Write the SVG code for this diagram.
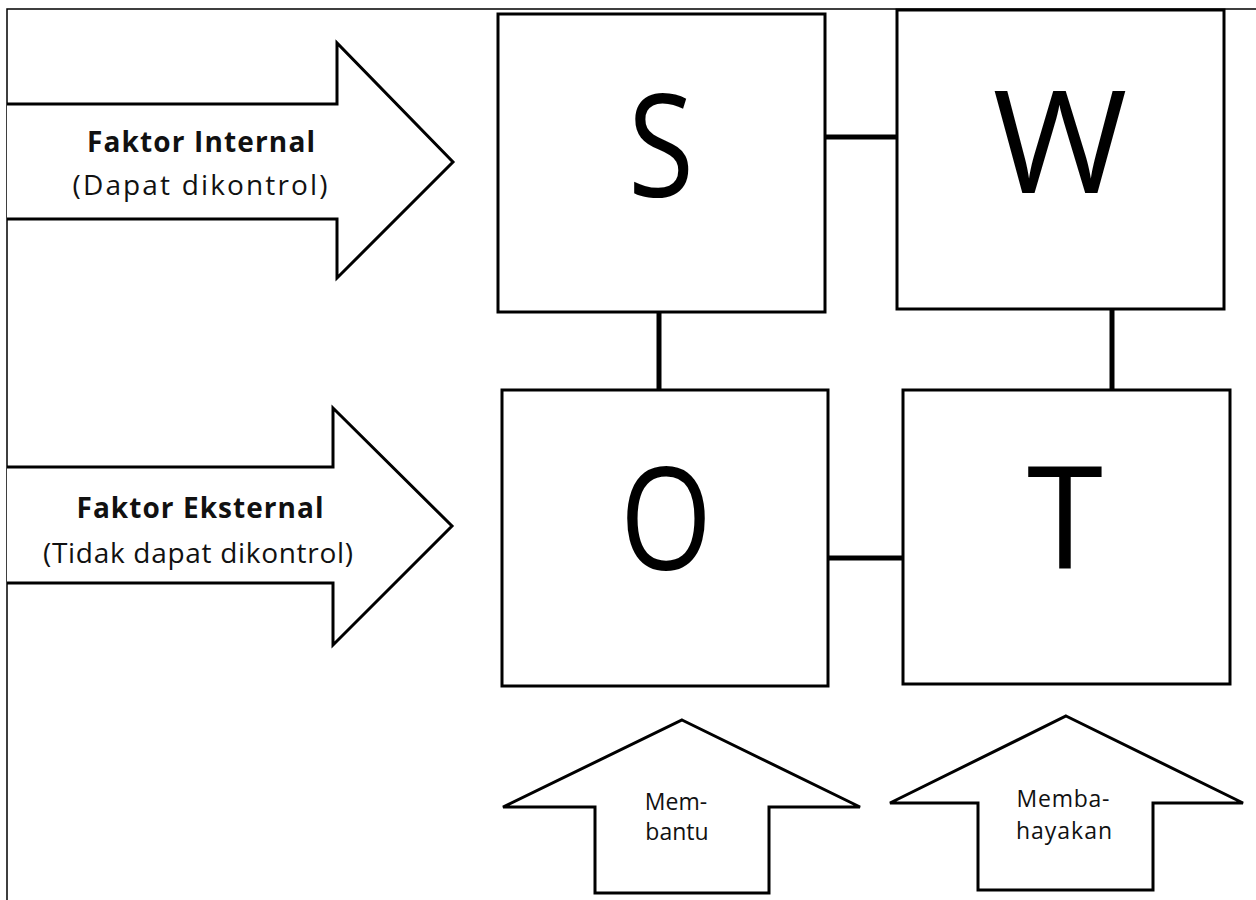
<svg xmlns="http://www.w3.org/2000/svg" width="1256" height="900" viewBox="0 0 1256 900">
<style>
.box{fill:#fff;stroke:#000;stroke-width:3}
.arrow{fill:#fff;stroke:#000;stroke-width:3;stroke-linejoin:miter}
.conn{stroke:#000;stroke-width:5;fill:none}
.frame{stroke:#000;stroke-width:1.5;fill:none}
.big{font-family:"Open Sans","Liberation Sans",sans-serif;font-size:142px;fill:#000;text-anchor:middle}
.lbl{font-family:"Open Sans","Liberation Sans",sans-serif;font-size:28px;fill:#111;text-anchor:middle}
.lblb{font-family:"Open Sans","Liberation Sans",sans-serif;font-size:28px;font-weight:bold;fill:#111;text-anchor:middle}
.sm{font-family:"Open Sans","Liberation Sans",sans-serif;font-size:23px;fill:#111;text-anchor:middle}
</style>
<rect width="1256" height="900" fill="#fff"/>
<path class="frame" d="M7,900 V9 H1256"/>
<g id="connectors">
<line class="conn" x1="825" y1="137" x2="897" y2="137"/>
<line class="conn" x1="659" y1="312" x2="659" y2="390"/>
<line class="conn" x1="1112" y1="309" x2="1112" y2="390"/>
<line class="conn" x1="828" y1="558" x2="903" y2="558"/>
</g>
<g id="node-S">
<rect class="box" x="498" y="14" width="327" height="298"/>
<text class="big" x="661" y="197" textLength="66" lengthAdjust="spacingAndGlyphs">S</text>
</g>
<g id="node-W">
<rect class="box" x="897" y="10" width="327" height="299"/>
<text class="big" x="1060" y="193" textLength="135" lengthAdjust="spacingAndGlyphs">W</text>
</g>
<g id="node-O">
<rect class="box" x="502" y="390" width="326" height="296"/>
<text class="big" x="666" y="570" textLength="92" lengthAdjust="spacingAndGlyphs">O</text>
</g>
<g id="node-T">
<rect class="box" x="903" y="390" width="327" height="294"/>
<text class="big" x="1065" y="569" textLength="76" lengthAdjust="spacingAndGlyphs">T</text>
</g>
<g id="arrow-internal">
<path class="arrow" d="M7,104 H337 V43 L453,162 L337,278 V219 H7"/>
<text class="lblb" x="201" y="152" textLength="228" lengthAdjust="spacing">Faktor Internal</text>
<text class="lbl" x="200" y="195" textLength="255" lengthAdjust="spacing">(Dapat dikontrol)</text>
</g>
<g id="arrow-eksternal">
<path class="arrow" d="M7,467 H333 V408 L452,526 L333,645 V583 H7"/>
<text class="lblb" x="200" y="518" textLength="247" lengthAdjust="spacing">Faktor Eksternal</text>
<text class="lbl" x="198" y="563" textLength="310" lengthAdjust="spacing">(Tidak dapat dikontrol)</text>
</g>
<g id="arrow-membantu">
<path class="arrow" d="M682,720 L860,807 H769 V893 H595 V807 H503 Z"/>
<text class="sm" x="676" y="810">Mem-</text>
<text class="sm" x="677" y="840">bantu</text>
</g>
<g id="arrow-membahayakan">
<path class="arrow" d="M1066,716 L1243,803 H1153 V890 H978 V803 H890 Z"/>
<text class="sm" x="1063" y="807" textLength="93" lengthAdjust="spacing">Memba-</text>
<text class="sm" x="1064" y="839" textLength="96" lengthAdjust="spacing">hayakan</text>
</g>
</svg>
